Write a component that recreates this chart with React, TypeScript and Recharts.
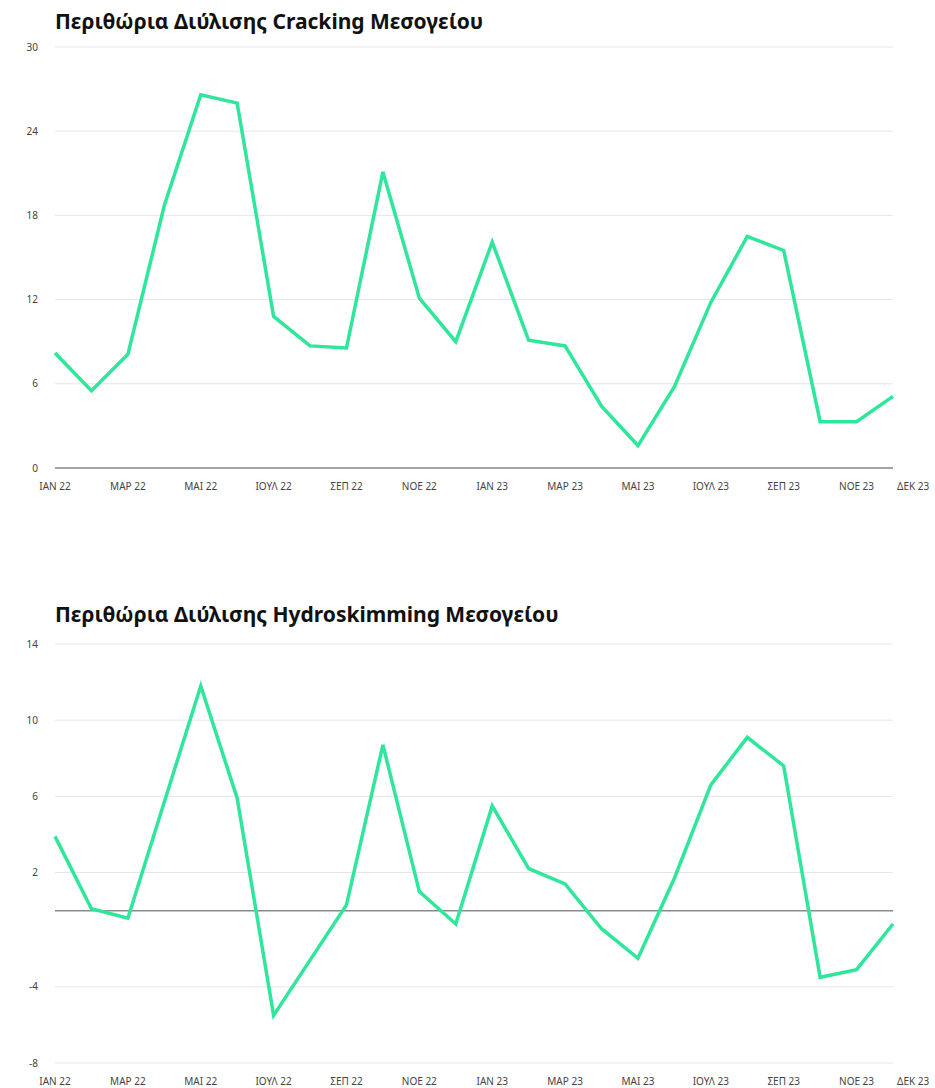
import { LineChart, Line, XAxis, YAxis, CartesianGrid, ReferenceLine } from "recharts";

const months = [
  "ΙΑΝ 22", "ΦΕΒ 22", "ΜΑΡ 22", "ΑΠΡ 22", "ΜΑΙ 22", "ΙΟΥΝ 22",
  "ΙΟΥΛ 22", "ΑΥΓ 22", "ΣΕΠ 22", "ΟΚΤ 22", "ΝΟΕ 22", "ΔΕΚ 22",
  "ΙΑΝ 23", "ΦΕΒ 23", "ΜΑΡ 23", "ΑΠΡ 23", "ΜΑΙ 23", "ΙΟΥΝ 23",
  "ΙΟΥΛ 23", "ΑΥΓ 23", "ΣΕΠ 23", "ΟΚΤ 23", "ΝΟΕ 23", "ΔΕΚ 23",
];

const crackingValues = [
  8.2, 5.5, 8.1, 18.7, 26.6, 26.0, 10.8, 8.7, 8.55, 21.1, 12.1, 9.0,
  16.1, 9.1, 8.7, 4.4, 1.6, 5.8, 11.8, 16.5, 15.5, 3.3, 3.3, 5.1,
];

const hydroValues = [
  3.9, 0.1, -0.4, 5.7, 11.8, 5.9, -5.5, -2.6, 0.3, 8.7, 1.0, -0.7,
  5.5, 2.2, 1.4, -0.95, -2.5, 1.7, 6.6, 9.1, 7.6, -3.5, -3.1, -0.7,
];

const xTicks = [
  "ΙΑΝ 22", "ΜΑΡ 22", "ΜΑΙ 22", "ΙΟΥΛ 22", "ΣΕΠ 22", "ΝΟΕ 22",
  "ΙΑΝ 23", "ΜΑΡ 23", "ΜΑΙ 23", "ΙΟΥΛ 23", "ΣΕΠ 23", "ΝΟΕ 23", "ΔΕΚ 23",
];
const crackingTicks = [0, 6, 12, 18, 24, 30];
const hydroTicks = [-8, -4, 2, 6, 10, 14];

const crackingData = months.map((m, i) => ({ month: m, value: crackingValues[i] }));
const hydroData = months.map((m, i) => ({ month: m, value: hydroValues[i] }));

const FONT = "'Noto Sans', 'Open Sans', sans-serif";
const GREEN = "#2fe69b";

const MonthTick = ({ x, y, payload }: any) => {
  const last = payload.value === "ΔΕΚ 23";
  return (
    <text
      x={last ? x + 4 : x}
      y={y}
      dy="0.71em"
      textAnchor={last ? "start" : "middle"}
      fontSize={10}
      fill="#444"
      fontFamily={FONT}
    >
      {payload.value}
    </text>
  );
};

const titleStyle: React.CSSProperties = {
  position: "absolute",
  left: 55,
  fontFamily: FONT,
  fontWeight: 700,
  fontSize: 21,
  color: "#111",
  whiteSpace: "nowrap",
};

const Panel = ({ data, ticks, domain, height, top, bottom }: any) => (
  <LineChart
    width={935}
    height={height}
    data={data}
    margin={{ top, right: 42, left: 8, bottom }}
  >
    <CartesianGrid vertical={false} stroke="#e6e6e6" strokeWidth={1} />
    <XAxis
      dataKey="month"
      ticks={xTicks}
      interval={0}
      axisLine={false}
      tickLine={false}
      tickSize={0}
      tickMargin={15}
      height={20}
      tick={<MonthTick />}
    />
    <YAxis
      domain={domain}
      ticks={ticks}
      axisLine={false}
      tickLine={false}
      tickSize={0}
      tickMargin={17}
      width={47}
      tick={{ fontSize: 10, fill: "#444", fontFamily: FONT }}
    />
    <ReferenceLine y={0} stroke="#8a8a8a" strokeWidth={1.5} />
    <Line
      type="linear"
      dataKey="value"
      stroke={GREEN}
      strokeWidth={3.5}
      dot={false}
      isAnimationActive={false}
    />
  </LineChart>
);

export default function App() {
  return (
    <div
      style={{
        position: "fixed",
        top: 0,
        left: 0,
        width: 935,
        height: 1088,
        overflow: "hidden",
        background: "#fff",
      }}
    >
      <div style={{ ...titleStyle, top: 7 }}>Περιθώρια Διύλισης Cracking Μεσογείου</div>
      <div style={{ position: "absolute", top: 0, left: 0 }}>
        <Panel data={crackingData} ticks={crackingTicks} domain={[0, 30]} height={500} top={47} bottom={12} />
      </div>
      <div style={{ ...titleStyle, top: 600 }}>Περιθώρια Διύλισης Hydroskimming Μεσογείου</div>
      <div style={{ position: "absolute", top: 600, left: 0 }}>
        <Panel data={hydroData} ticks={hydroTicks} domain={[-8, 14]} height={488} top={44} bottom={5} />
      </div>
    </div>
  );
}
